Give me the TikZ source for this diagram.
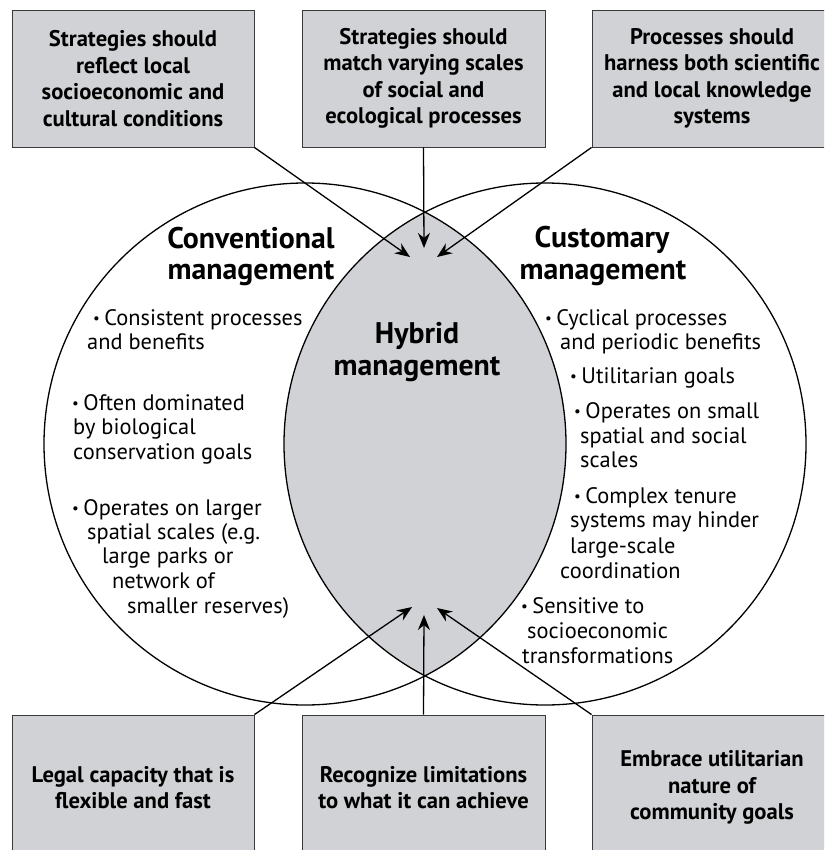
\documentclass[tikz,border=0pt]{standalone}
\usepackage{fontspec}
\setmainfont{PT Sans}
\usetikzlibrary{arrows.meta}
\definecolor{panelgray}{HTML}{D1D2D5}
\definecolor{edgegray}{HTML}{3A3A3A}
% small raised bullet for list items
\newcommand\bul{{\fontsize{15}{15}\selectfont\raisebox{1.8pt}{\textbullet}}\hspace{0.2em}}
\begin{document}
\begin{tikzpicture}[x=1pt,y=-1pt,
  box/.style={draw=edgegray, line width=0.9pt, fill=panelgray, align=center,
    font=\fontsize{22.6}{26.5}\selectfont\bfseries, inner sep=0pt},
  ring/.style={draw=black, line width=1.3pt, circle, inner sep=0pt, minimum size=522pt},
  feed/.style={draw=black, line width=1.3pt, -{Stealth[length=15pt,width=12pt]}},
  title/.style={font=\fontsize{29.8}{32}\selectfont\bfseries, anchor=base, inner sep=0pt},
  body/.style={font=\fontsize{22.4}{24}\selectfont, anchor=base west, inner sep=0pt},
]
\useasboundingbox (0,0) rectangle (824,850);
\clip (0,0) rectangle (824,850);

% shaded overlap of the two approaches
\begin{scope}
  \clip (305,444) circle (261);
  \fill[panelgray] (545,444) circle (261);
\end{scope}
\node[ring] (conv) at (305,444) {};
\node[ring] (cust) at (545,444) {};

% circle titles
\node[title] (convA) at (251,248) {Conventional};
\node[title] (convB) at (251,279) {management};
\node[title] (custA) at (602,247) {Customary};
\node[title] (custB) at (603,279) {management};
\node[title] (hybA) at (417,343) {Hybrid};
\node[title] (hybB) at (417,375) {management};

% conventional management traits
\node[body] (l1) at (93,325) {\bul Consistent processes};
\node[body] (l2) at (87,349) {and benefits};
\node[body] (l3) at (72,410) {\bul Often dominated};
\node[body] (l4) at (73,434) {by biological};
\node[body] (l5) at (73,459) {conservation goals};
\node[body] (l6) at (72,515) {\bul Operates on larger};
\node[body] (l7) at (87,539) {spatial scales (e.g.};
\node[body] (l8) at (102,563) {large parks or};
\node[body] (l9) at (112,588) {network of};
\node[body] (l10) at (127,613) {smaller reserves)};

% customary management traits
\node[body] (r1) at (545,325) {\bul Cyclical processes};
\node[body] (r2) at (560,349) {and periodic benefits};
\node[body] (r3) at (570,383) {\bul Utilitarian goals};
\node[body] (r4) at (574,418) {\bul Operates on small};
\node[body] (r5) at (580,443) {spatial and social};
\node[body] (r6) at (580,467) {scales};
\node[body] (r7) at (574,503) {\bul Complex tenure};
\node[body] (r8) at (570,527) {systems may hinder};
\node[body] (r9) at (570,553) {large-scale};
\node[body] (r10) at (560,578) {coordination};
\node[body] (r11) at (521,613) {\bul Sensitive to};
\node[body] (r12) at (527,638) {socioeconomic};
\node[body] (r13) at (522,663) {transformations};

% principle boxes
\node[box, minimum width=242pt, minimum height=137pt] (b1) at (133,78.5)
  {Strategies should\\reflect local\\socioeconomic and\\cultural conditions};
\node[box, minimum width=243pt, minimum height=137pt] (b2) at (423.5,78.5)
  {Strategies should\\match varying scales\\of social and\\ecological processes};
\node[box, minimum width=240pt, minimum height=137pt] (b3) at (712,78.5)
  {Processes should\\harness both scientific\\and local knowledge\\systems};
\node[box, minimum width=242pt, minimum height=145pt] (b4) at (133,787.5)
  {Legal capacity that is\\flexible and fast};
\node[box, minimum width=243pt, minimum height=145pt] (b5) at (423.5,787.5)
  {Recognize limitations\\to what it can achieve};
\node[box, minimum width=240pt, minimum height=145pt] (b6) at (712,787.5)
  {Embrace utilitarian\\nature of\\community goals};

% arrow targets inside the overlap
\coordinate (t1) at (410,257);
\coordinate (t2) at (424,248);
\coordinate (t3) at (437,257);
\coordinate (t4) at (412,607);
\coordinate (t5) at (424,615);
\coordinate (t6) at (437,608);

\draw[feed] (b1.south east) -- (t1);
\draw[feed] (b2.south) -- (t2);
\draw[feed] (b3.south west) -- (t3);
\draw[feed] (b4.north east) -- (t4);
\draw[feed] (b5.north) -- (t5);
\draw[feed] (b6.north west) -- (t6);
\end{tikzpicture}
\end{document}
